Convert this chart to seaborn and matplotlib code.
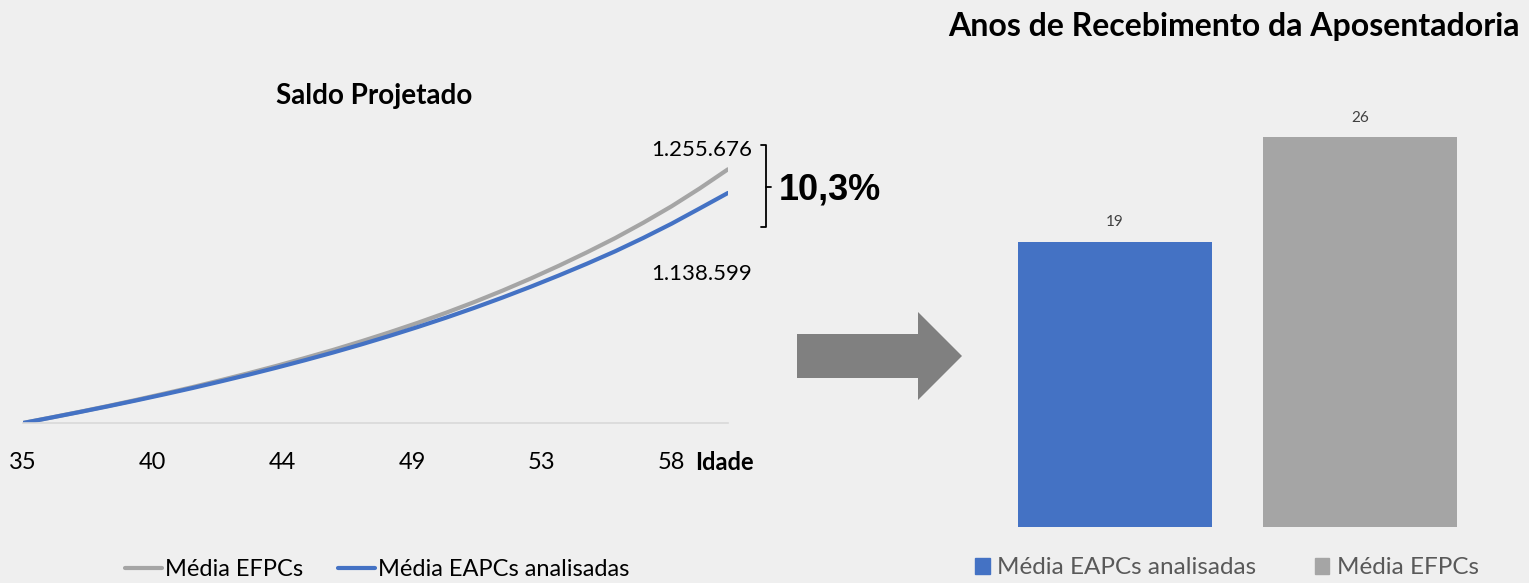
import numpy as np
import pandas as pd
import seaborn as sns
import matplotlib.pyplot as plt
from matplotlib.lines import Line2D
from matplotlib.patches import Polygon, Patch

# dados
idades = list(range(35, 61))
saldo_efpc = [0, 27200, 54950, 83660, 113860, 145060, 177190, 211350, 246480, 283110,
              321720, 361810, 404370, 448920, 495940, 545430, 598400, 654820, 714710,
              778060, 844870, 915160, 991360, 1072530, 1161130, 1255676]
saldo_eapc = [0, 26700, 53950, 82160, 111360, 141560, 172740, 205410, 239060, 274200,
              310830, 348940, 389030, 431100, 475150, 521180, 569690, 620670, 674120,
              730050, 788450, 849830, 916130, 986410, 1062140, 1138599]
series = ["Média EFPCs", "Média EAPCs analisadas"]
idade_labels = ["35", "40", "44", "49", "53", "58"]
saldo_final_labels = ["1.255.676", "1.138.599"]
diferenca = "10,3%"

anos_cat = ["Média EAPCs analisadas", "Média EFPCs"]
anos_val = [19, 26]

W, H = 1529, 583
BG = "#EFEFEF"
AZUL = "#4472C4"
CINZA = "#A5A5A5"
FONTE = ["Lato", "DejaVu Sans"]


def fx(px):
    return px / W


def fy(py):
    return 1 - py / H


sns.set_theme(style="white")
plt.rcParams["font.family"] = FONTE
plt.rcParams["axes.facecolor"] = BG
plt.rcParams["figure.facecolor"] = BG
plt.rcParams["text.color"] = "black"

df = pd.concat([
    pd.DataFrame({"Idade": idades, "Saldo": saldo_efpc, "Serie": series[0]}),
    pd.DataFrame({"Idade": idades, "Saldo": saldo_eapc, "Serie": series[1]}),
])

fig = plt.figure(figsize=(W / 100, H / 100), dpi=100)

# ---- saldo projetado
ax1 = fig.add_axes([fx(23), fy(423), fx(728) - fx(23), fy(130) - fy(423)])
sns.lineplot(data=df, x="Idade", y="Saldo", hue="Serie", hue_order=series,
             palette=[CINZA, AZUL], linewidth=3, ax=ax1)
ax1.set_xlim(35, 60)
ax1.set_ylim(0, 1450000)
ax1.set_xticks(np.linspace(35, 58, len(idade_labels)))
ax1.set_xticklabels(idade_labels, fontsize=17, color="black")
ax1.tick_params(axis="x", length=0, pad=21)
ax1.set_yticks([])
ax1.set_xlabel("")
ax1.set_ylabel("")
for s in ["top", "right", "left"]:
    ax1.spines[s].set_visible(False)
ax1.spines["bottom"].set_color("#D9D9D9")
ax1.spines["bottom"].set_linewidth(1.2)

sns.move_legend(ax1, "center", bbox_to_anchor=(fx(377), fy(570)),
                bbox_transform=fig.transFigure, ncol=2, frameon=False, title=None,
                fontsize=17, handlelength=1.55, handletextpad=0.12, columnspacing=1.5)

fig.text(fx(374), fy(104), "Saldo Projetado", ha="center", va="baseline",
         fontsize=20, fontweight="bold")
fig.text(fx(724), fy(462), "Idade", ha="center", va="center",
         fontsize=17, fontweight="bold")

fig.text(fx(752), fy(150), saldo_final_labels[0], ha="right", va="center", fontsize=16)
fig.text(fx(752), fy(274), saldo_final_labels[1], ha="right", va="center", fontsize=16)

# chave
fig.add_artist(Line2D([fx(761), fx(766), fx(766), fx(761)],
                      [fy(145), fy(145), fy(227), fy(227)],
                      transform=fig.transFigure, color="black", lw=1.3))
fig.add_artist(Line2D([fx(766), fx(771)], [fy(187), fy(187)],
                      transform=fig.transFigure, color="black", lw=1.3))
fig.text(fx(779), fy(190), diferenca, ha="left", va="center", color="black",
         fontsize=26, fontweight="bold", family=["Liberation Sans", "DejaVu Sans"])

# seta
seta = [(797, 334), (918, 334), (918, 312), (962, 356), (918, 400), (918, 378), (797, 378)]
fig.add_artist(Polygon([(fx(a), fy(b)) for a, b in seta], closed=True,
                       transform=fig.transFigure, facecolor="#808080", edgecolor="none"))

# ---- anos de recebimento
ax2 = fig.add_axes([fx(992), fy(527), fx(1483) - fx(992), fy(77) - fy(527)])
sns.barplot(x=anos_cat, y=anos_val, hue=anos_cat, palette=[AZUL, CINZA],
            width=0.79, linewidth=0, saturation=1, legend=False, ax=ax2)
ax2.set_ylim(0, 30)
ax2.set_xlim(-0.5, 1.5)
for c in ax2.containers:
    ax2.bar_label(c, fontsize=11, color="#404040", padding=9)
ax2.set_xticks([])
ax2.set_yticks([])
ax2.set_xlabel("")
ax2.set_ylabel("")
sns.despine(ax=ax2, left=True, bottom=True)

fig.text(fx(1234), fy(36), "Anos de Recebimento da Aposentadoria", ha="center",
         va="baseline", fontsize=23, fontweight="bold")

handles = [Patch(color=AZUL, label=anos_cat[0]), Patch(color=CINZA, label=anos_cat[1])]
fig.legend(handles=handles, loc="center", bbox_to_anchor=(fx(1227), fy(568)),
           ncol=2, frameon=False, fontsize=17.5,
           labelcolor="#595959", handlelength=0.6, handleheight=0.6,
           handletextpad=0.3, columnspacing=2.4)

fig.savefig("out.png", dpi=100, facecolor=BG)
